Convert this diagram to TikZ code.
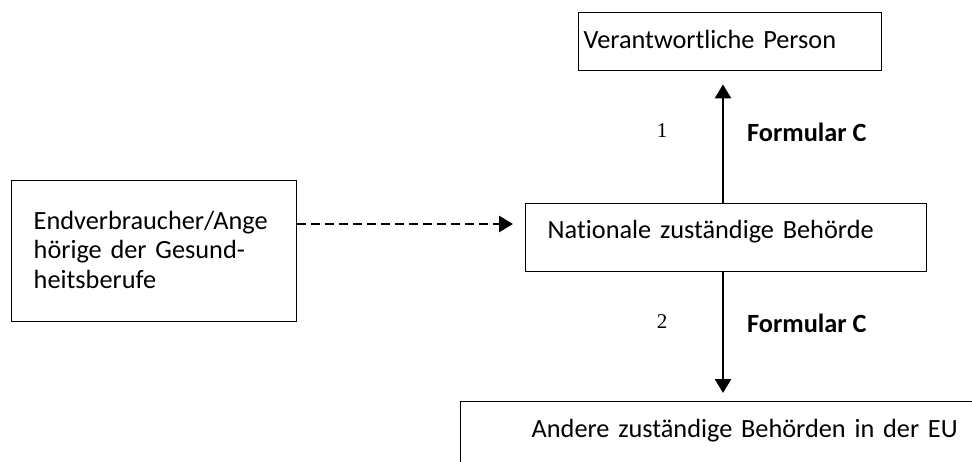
\documentclass[tikz,border=0pt]{standalone}
\usepackage{fontspec}
\setmainfont{Carlito}[Ligatures=NoCommon]
\newfontfamily\numfont{Liberation Serif}
\usetikzlibrary{arrows.meta,calc}
\begin{document}
\begin{tikzpicture}[x=1pt,y=-1pt,
  box/.style={draw,line width=1.4pt,inner sep=0pt,align=left,
    font=\fontsize{26.3}{29.3}\selectfont,anchor=north west},
  arr/.style={line width=2.7pt,-{Triangle[length=14pt,width=16pt]}},
  numlab/.style={font=\numfont\fontsize{21}{21}\selectfont,inner sep=0pt},
  formlab/.style={font=\bfseries\fontsize{26.3}{26.3}\selectfont,anchor=base west,inner sep=0pt}]
\path[use as bounding box] (0,0) rectangle (972,462);
\clip (0,0) rectangle (972,462);
\node[box,inner xsep=5pt,text width=293pt,text height=36pt,text depth=22pt] (top) at (578,12) {Verantwortliche Person};
\node[box,inner xsep=22pt,text width=357pt,text height=35pt,text depth=33pt] (mid) at (525,203) {Nationale zuständige Behörde};
\node[box,inner xsep=22pt,text width=241pt,text height=49pt,text depth=92pt] (src) at (11,180) {Endverbraucher/Ange\\hörige der Gesund-\\heitsberufe};
\node[box,inner xsep=71pt,text width=458pt,text height=36pt,text depth=44pt] (bot) at (460,401) {Andere zuständige Behörden in der EU};
\coordinate (ax) at (723,0);
\coordinate (ay) at (0,224);
\draw[arr] (mid.north -| ax) -- ([yshift=-13pt]top.south -| ax);
\draw[arr] (mid.south -| ax) -- ([yshift=8pt]bot.north -| ax);
\draw[arr,dash pattern=on 9pt off 5pt] (src.east |- ay) -- ([xshift=-12pt]mid.west |- ay);
\node[numlab] (n1) at (662,131) {1};
\node[formlab] (f1) at (747,142) {Formular C};
\node[numlab] (n2) at (662,322) {2};
\node[formlab] (f2) at (747,333) {Formular C};
\end{tikzpicture}
\end{document}
